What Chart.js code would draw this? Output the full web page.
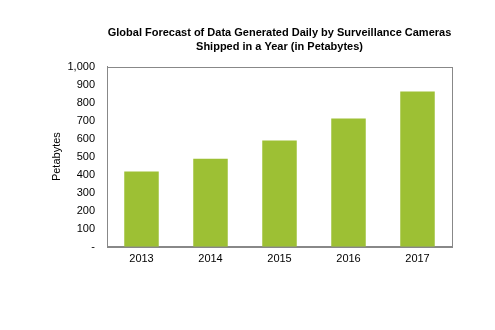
<!DOCTYPE html>
<html>
<head>
<meta charset="utf-8">
<script src="https://cdn.jsdelivr.net/npm/chart.js@4"></script>
<style>
  html, body { margin: 0; padding: 0; background: #fff; }
  #wrap { width: 495px; height: 330px; }
</style>
</head>
<body>
<div id="wrap"><canvas id="chart"></canvas></div>
<script>
// data
var years = ['2013', '2014', '2015', '2016', '2017'];
var petabytes = [417, 489, 589, 711, 861];
var titleLines = ['Global Forecast of Data Generated Daily by Surveillance Cameras', 'Shipped in a Year (in Petabytes)'];

var ctx = document.getElementById('chart').getContext('2d');
var chart = new Chart(ctx, {
  type: 'bar',
  data: {
    labels: years,
    datasets: [{
      label: 'Petabytes',
      data: petabytes,
      backgroundColor: '#9dc034',
      barPercentage: 0.5,
      categoryPercentage: 1.0
    }]
  },
  options: {
    responsive: true,
    maintainAspectRatio: false,
    animation: false,
    layout: { padding: { left: 50, right: 43, top: 26, bottom: 58 } },
    plugins: {
      legend: { display: false },
      tooltip: { enabled: false },
      title: {
        display: true,
        text: titleLines,
        fullSize: false,
        color: '#000',
        font: { family: 'Liberation Sans, Arial', size: 11, weight: 'bold', lineHeight: 1.25 },
        padding: { top: 0, bottom: 13 }
      }
    },
    scales: {
      x: {
        grid: { display: false, drawTicks: false },
        border: { display: true, color: '#888', width: 1 },
        ticks: {
          color: '#000',
          padding: 6,
          font: { family: 'Liberation Sans, Arial', size: 11 }
        }
      },
      y: {
        min: 0,
        max: 1000,
        grid: { display: false, drawTicks: false },
        border: { display: true, color: '#888', width: 1 },
        title: {
          display: true,
          text: 'Petabytes',
          color: '#000',
          font: { family: 'Liberation Sans, Arial', size: 11 },
          padding: { top: 0, bottom: 10 }
        },
        ticks: {
          stepSize: 100,
          color: '#000',
          padding: 12,
          font: { family: 'Liberation Sans, Arial', size: 11 },
          callback: function(value) {
            return value === 0 ? '-' : value.toLocaleString('en-US');
          }
        },
        afterFit: function(scale) { scale.width = 57; }
      }
    }
  },
  plugins: [{
    // box around the plot area, like the reference
    id: 'frame',
    afterDraw: function(c) {
      var a = c.chartArea, g = c.ctx;
      g.save();
      g.strokeStyle = '#888';
      g.lineWidth = 1;
      g.strokeRect(Math.round(a.left) + 0.5, Math.round(a.top) + 0.5, Math.round(a.right - a.left), Math.round(a.bottom - a.top));
      g.restore();
    }
  }]
});
</script>
</body>
</html>
